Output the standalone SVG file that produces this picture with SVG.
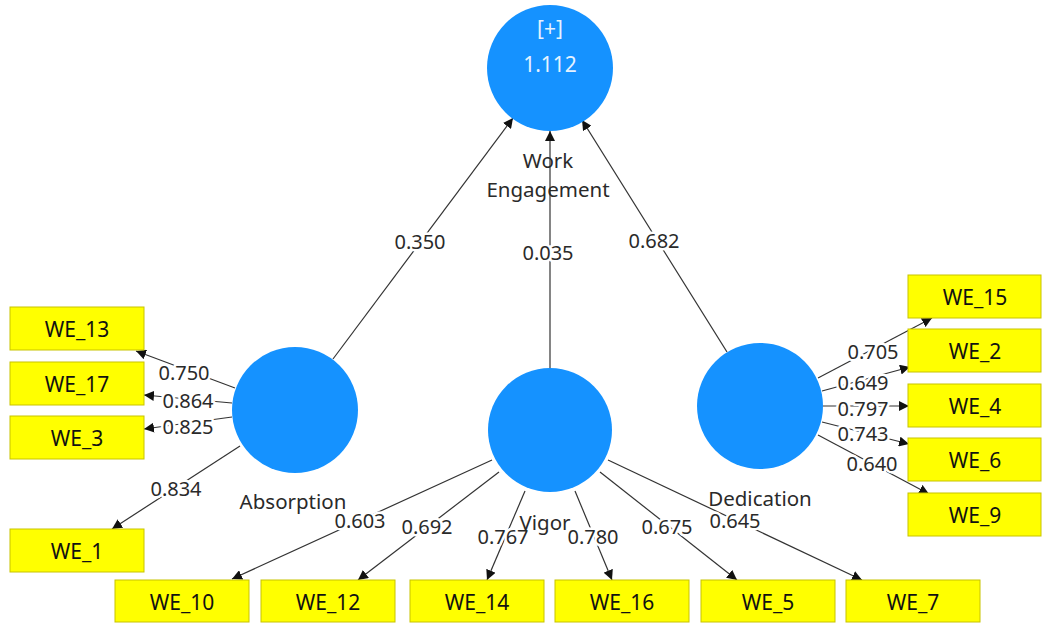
<svg xmlns="http://www.w3.org/2000/svg" width="1042" height="623" viewBox="0 0 1042 623">
<defs>
<marker id="arr" viewBox="0 0 10 10" refX="10" refY="5" markerWidth="10" markerHeight="10" markerUnits="userSpaceOnUse" orient="auto">
<path d="M0,0 L10,5 L0,10 z" fill="#111"/>
</marker>
<style>
.c{fill:#1592FF;}
.b{fill:#FFFF00;stroke:#C8C300;stroke-width:1;}
.bt{font-family:"Noto Sans","Open Sans",sans-serif;font-size:21px;fill:#111;text-anchor:middle;dominant-baseline:central;}
.n{font-family:"Noto Sans","Open Sans",sans-serif;font-size:20.5px;fill:#2a2a2a;text-anchor:middle;dominant-baseline:central;}
.ct{font-family:"Noto Sans","Open Sans",sans-serif;font-size:21px;fill:#E6F2FF;text-anchor:middle;dominant-baseline:central;}
.l{stroke:#333;stroke-width:1.2;fill:none;marker-end:url(#arr);}
.lb{font-family:"Noto Sans","Open Sans",sans-serif;font-size:20px;fill:#2a2a2a;text-anchor:middle;dominant-baseline:central;stroke:#fff;stroke-width:5;stroke-linejoin:round;paint-order:stroke;}
</style>
</defs>
<rect width="1042" height="623" fill="#fff"/>
<g id="connectors">
<line class="l" x1="333" y1="359" x2="513" y2="118"/>
<line class="l" x1="550" y1="368" x2="550" y2="131"/>
<line class="l" x1="727" y1="352" x2="582" y2="120"/>
<line class="l" x1="235" y1="388" x2="136" y2="351"/>
<line class="l" x1="232" y1="403" x2="144" y2="395"/>
<line class="l" x1="232" y1="417" x2="144" y2="429"/>
<line class="l" x1="240" y1="446" x2="112" y2="529"/>
<line class="l" x1="492" y1="460" x2="232" y2="579"/>
<line class="l" x1="499" y1="472" x2="358" y2="580"/>
<line class="l" x1="525" y1="491" x2="487" y2="580"/>
<line class="l" x1="575" y1="491" x2="612" y2="580"/>
<line class="l" x1="600" y1="472" x2="737" y2="580"/>
<line class="l" x1="608" y1="460" x2="862" y2="580"/>
<line class="l" x1="818" y1="378" x2="932" y2="318"/>
<line class="l" x1="822" y1="391" x2="910" y2="367"/>
<line class="l" x1="823" y1="406" x2="909" y2="406"/>
<line class="l" x1="822" y1="422" x2="909" y2="444"/>
<line class="l" x1="818" y1="435" x2="929" y2="494"/>
<text class="lb" x="420" y="241">0.350</text>
<text class="lb" x="548" y="252">0.035</text>
<text class="lb" x="654" y="240">0.682</text>
<text class="lb" x="184" y="372">0.750</text>
<text class="lb" x="188" y="400">0.864</text>
<text class="lb" x="188" y="426">0.825</text>
<text class="lb" x="176" y="488">0.834</text>
<text class="lb" x="360" y="520">0.603</text>
<text class="lb" x="427" y="526">0.692</text>
<text class="lb" x="503" y="536">0.767</text>
<text class="lb" x="593" y="536">0.780</text>
<text class="lb" x="667" y="526">0.675</text>
<text class="lb" x="735" y="520">0.645</text>
<text class="lb" x="873" y="351">0.705</text>
<text class="lb" x="863" y="382">0.649</text>
<text class="lb" x="863" y="408">0.797</text>
<text class="lb" x="863" y="433">0.743</text>
<text class="lb" x="872" y="463">0.640</text>
</g>
<g id="work-engagement">
<circle class="c" cx="550" cy="68" r="63"/>
<text class="ct" x="550" y="28">[+]</text>
<text class="ct" x="550" y="64">1.112</text>
<text class="n" x="548" y="160">Work</text>
<text class="n" x="548" y="189">Engagement</text>
</g>
<g id="absorption">
<circle class="c" cx="295" cy="410" r="63"/>
<text class="n" x="293" y="501">Absorption</text>
</g>
<g id="vigor">
<circle class="c" cx="550" cy="430" r="62"/>
<text class="n" x="545" y="522">Vigor</text>
</g>
<g id="dedication">
<circle class="c" cx="760" cy="406" r="63"/>
<text class="n" x="760" y="498">Dedication</text>
</g>
<g id="WE_13"><rect class="b" x="10" y="307" width="134" height="43"/><text class="bt" x="77" y="329">WE_13</text></g>
<g id="WE_17"><rect class="b" x="10" y="362" width="134" height="43"/><text class="bt" x="77" y="384">WE_17</text></g>
<g id="WE_3"><rect class="b" x="10" y="416" width="134" height="43"/><text class="bt" x="77" y="438">WE_3</text></g>
<g id="WE_1"><rect class="b" x="10" y="529" width="134" height="43"/><text class="bt" x="77" y="551">WE_1</text></g>
<g id="WE_15"><rect class="b" x="908" y="275" width="133" height="43"/><text class="bt" x="975" y="297">WE_15</text></g>
<g id="WE_2"><rect class="b" x="908" y="329" width="133" height="43"/><text class="bt" x="975" y="351">WE_2</text></g>
<g id="WE_4"><rect class="b" x="908" y="384" width="133" height="43"/><text class="bt" x="975" y="406">WE_4</text></g>
<g id="WE_6"><rect class="b" x="908" y="438" width="133" height="43"/><text class="bt" x="975" y="460">WE_6</text></g>
<g id="WE_9"><rect class="b" x="908" y="493" width="133" height="43"/><text class="bt" x="975" y="515">WE_9</text></g>
<g id="WE_10"><rect class="b" x="115" y="580" width="134" height="42"/><text class="bt" x="182" y="602">WE_10</text></g>
<g id="WE_12"><rect class="b" x="261" y="580" width="134" height="42"/><text class="bt" x="328" y="602">WE_12</text></g>
<g id="WE_14"><rect class="b" x="410" y="580" width="134" height="42"/><text class="bt" x="477" y="602">WE_14</text></g>
<g id="WE_16"><rect class="b" x="555" y="580" width="134" height="42"/><text class="bt" x="622" y="602">WE_16</text></g>
<g id="WE_5"><rect class="b" x="701" y="580" width="134" height="42"/><text class="bt" x="768" y="602">WE_5</text></g>
<g id="WE_7"><rect class="b" x="846" y="580" width="134" height="42"/><text class="bt" x="913" y="602">WE_7</text></g>
</svg>
